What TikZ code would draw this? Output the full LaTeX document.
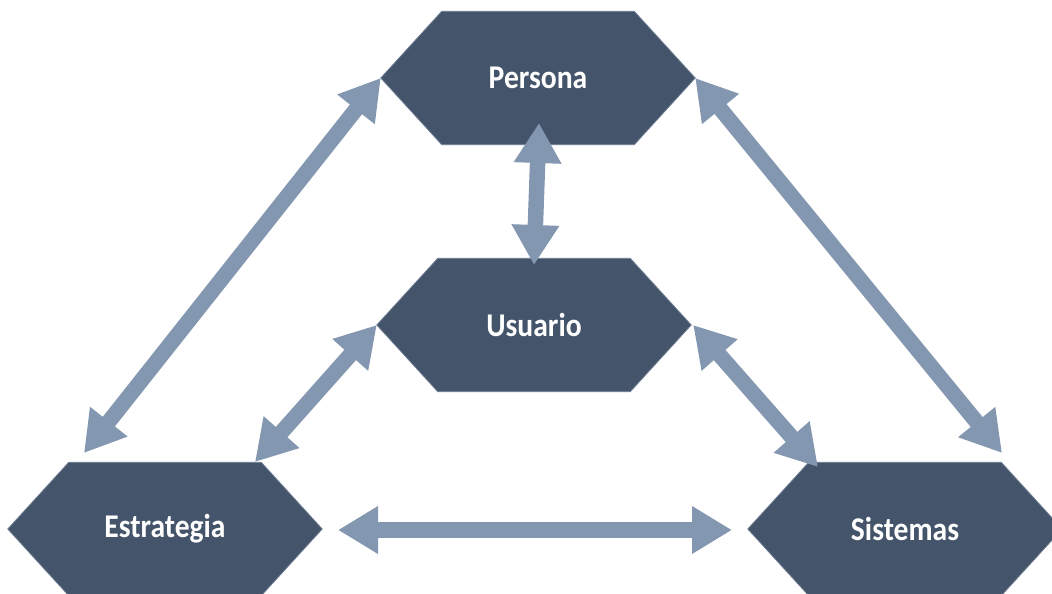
\documentclass[tikz,border=0pt]{standalone}
\usepackage{fontspec}
\newfontfamily\labelfont{Carlito}
\usetikzlibrary{arrows.meta,calc,backgrounds}
\definecolor{hexfill}{HTML}{44546A}
\definecolor{hexedge}{HTML}{6B7A90}
\definecolor{linkcol}{HTML}{8497B0}
\newcommand{\hexlabel}[1]{\scalebox{1}[1.12]{#1}}
\tikzset{
  hexnode/.style={minimum width=192pt, minimum height=133pt, inner sep=0pt,
    text=white, font=\labelfont\bfseries\fontsize{29.6}{31}\selectfont},
  hexshape/.style={fill=hexfill, draw=hexedge, line width=0.8pt},
  link/.style={draw=linkcol, line width=15.5pt,
    {Triangle[length=40pt,width=45pt]}-{Triangle[length=40pt,width=45pt]}},
}
\begin{document}
\begin{tikzpicture}[x=1pt,y=-1pt]
  \useasboundingbox (0,0) rectangle (1052,594);

  % the four hexagon nodes
  \node[hexnode] (P) at (538,78)  {\hexlabel{Persona}};
  \node[hexnode] (U) at (534,325) {\hexlabel{Usuario}};
  \node[hexnode] (E) at (165,529) {\hexlabel{Estrategia}};
  \node[hexnode] (S) at (905,529) {\hexlabel{Sistemas}};

  % hexagon outlines behind the labels
  \begin{pgfonlayer}{background}
    \foreach \n in {P,U,E,S}
      \path[hexshape] (\n.north west) -- (\n.north east) -- ($(\n.east)+(61,0)$)
        -- (\n.south east) -- (\n.south west) -- ($(\n.west)+(-61,0)$) -- cycle;
  \end{pgfonlayer}

  % arrow end points
  \coordinate (pL) at ($(P.west)+(-61,0)$);
  \coordinate (pR) at ($(P.east)+(61,0)$);
  \coordinate (pB) at (539,123);
  \coordinate (uT) at (534,265);
  \coordinate (uL) at ($(U.west)+(-61,0)$);
  \coordinate (uR) at ($(U.east)+(63,0)$);
  \coordinate (eT) at (84,453);
  \coordinate (eR) at (255,462);
  \coordinate (eS) at (338,530);
  \coordinate (sT) at (1002,453);
  \coordinate (sL) at (818,467);
  \coordinate (sE) at (732,530);

  % double-headed links
  \draw[link] (pL) -- (eT);
  \draw[link] (pR) -- (sT);
  \draw[link] (pB) -- (uT);
  \draw[link] (uL) -- (eR);
  \draw[link] (uR) -- (sL);
  \draw[link] (eS) -- (sE);
\end{tikzpicture}
\end{document}
